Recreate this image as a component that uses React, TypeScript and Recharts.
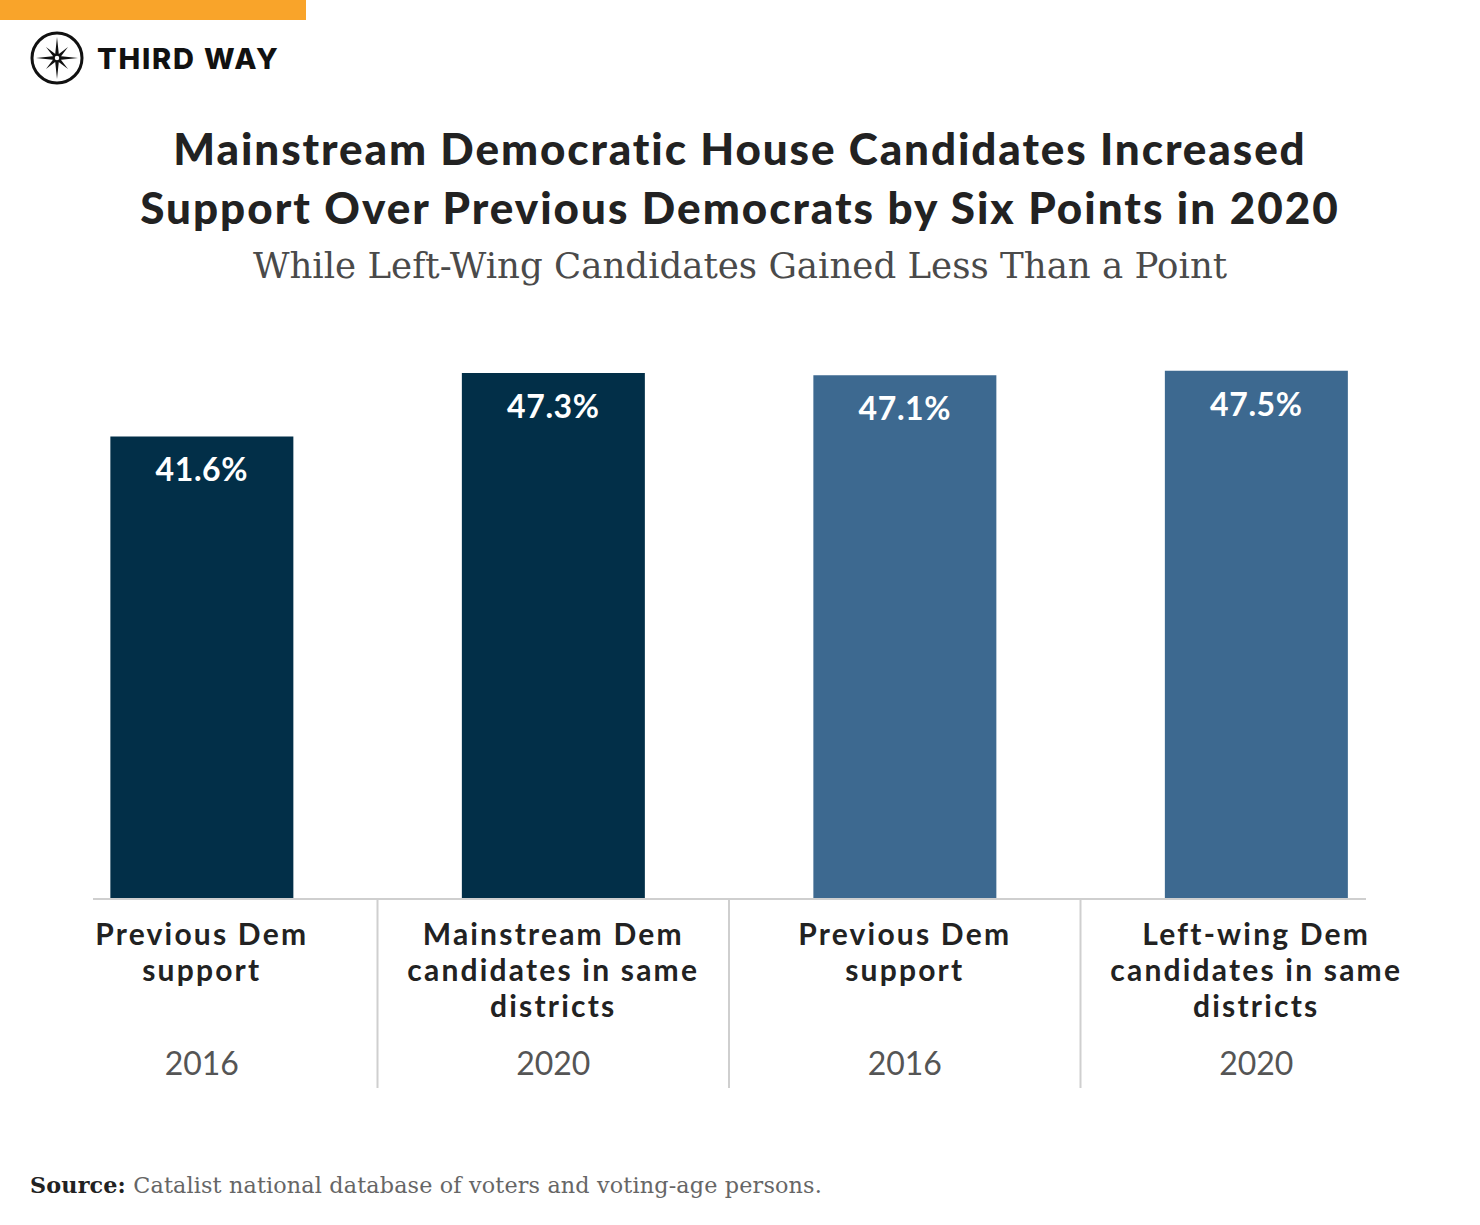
import React from 'react';
import { BarChart, Bar, XAxis, YAxis, LabelList, Cell } from 'recharts';

const categories = [
  ['Previous Dem', 'support'],
  ['Mainstream Dem', 'candidates in same', 'districts'],
  ['Previous Dem', 'support'],
  ['Left-wing Dem', 'candidates in same', 'districts'],
];
const years = ['2016', '2020', '2016', '2020'];
const support = [41.6, 47.3, 47.1, 47.5];
const barColors = ['#022f48', '#022f48', '#3d6990', '#3d6990'];

const data = support.map((v, i) => ({ key: `c${i}`, value: v }));

const W = 1480;
const H = 1225;
const M = { top: 343, right: 48, bottom: 126, left: 26 };
const AXIS_H = 200;
const band = (W - M.left - M.right) / categories.length;

const labelFont = 'Lato, "Open Sans", sans-serif';
const serif = '"DejaVu Serif", "Liberation Serif", serif';

const Tick = (props: any) => {
  const { x, y, payload, index } = props;
  const i = payload?.index ?? index;
  const lines = categories[i] || [];
  return (
    <g>
      {i > 0 && (
        <line x1={x - band / 2} x2={x - band / 2} y1={y} y2={y + 189} stroke="#cfcfcf" strokeWidth={2} />
      )}
      {lines.map((t, k) => (
        <text key={k} x={x} y={y + 46 + k * 36} textAnchor="middle" fontFamily={labelFont} fontWeight={700} fontSize={30} letterSpacing={2.2} fill="#222">
          {t}
        </text>
      ))}
      <text x={x} y={y + 176} textAnchor="middle" fontFamily={labelFont} fontWeight={400} fontSize={32} fill="#555">
        {years[i]}
      </text>
    </g>
  );
};

const Compass = () => (
  <g transform="translate(57,58)">
    <circle r={25} fill="none" stroke="#111" strokeWidth={3} />
    <polygon points="0,-21 2,-2 21,0 2,2 0,21 -2,2 -21,0 -2,-2" fill="#111" />
    <polygon points="-11,-11 1,-2 11,11 -1,2" fill="#111" />
    <polygon points="11,-11 2,1 -11,11 -2,-1" fill="#111" />
    <circle r={3} fill="#fff" stroke="#111" strokeWidth={1.5} />
  </g>
);

export default function App() {
  return (
    <div style={{ position: 'absolute', left: 0, top: 0, width: W, height: H, background: '#fff', overflow: 'hidden' }}>
      <BarChart
        width={W}
        height={H}
        data={data}
        margin={M}
        barCategoryGap="24%"
        style={{ position: 'absolute', left: 0, top: 0 }}
      >
        <XAxis
          dataKey="key"
          height={AXIS_H}
          axisLine={false}
          tickLine={false}
          tickSize={0}
          tickMargin={0}
          interval={0}
          tick={<Tick />}
        />
        <YAxis hide domain={[0, 50]} />
        <Bar dataKey="value" isAnimationActive={false}>
          {data.map((d, i) => (
            <Cell key={d.key} fill={barColors[i]} />
          ))}
          <LabelList
            dataKey="value"
            position="insideTop"
            offset={22}
            formatter={(v: any) => `${v}%`}
            fill="#fff"
            fontFamily={labelFont}
            fontWeight={700}
            fontSize={32}
            letterSpacing={0.6}
          />
        </Bar>
      </BarChart>
      <svg width={W} height={H} style={{ position: 'absolute', left: 0, top: 0, pointerEvents: 'none' }}>
        <rect x={0} y={0} width={306} height={20} fill="#f9a42a" />
        <Compass />
        <text x={97} y={69} fontFamily="Inter, Roboto, sans-serif" fontWeight={800} fontSize={29} letterSpacing={1.8} fill="#111">
          THIRD WAY
        </text>
        <text x={740} y={165} textAnchor="middle" fontFamily={labelFont} fontWeight={900} fontSize={44} letterSpacing={1.9} fill="#222">
          Mainstream Democratic House Candidates Increased
        </text>
        <text x={740} y={224} textAnchor="middle" fontFamily={labelFont} fontWeight={900} fontSize={44} letterSpacing={2} fill="#222">
          Support Over Previous Democrats by Six Points in 2020
        </text>
        <text x={740} y={278} textAnchor="middle" fontFamily={serif} fontWeight={400} fontSize={35.6} fill="#4a4a4a">
          While Left-Wing Candidates Gained Less Than a Point
        </text>
        <line x1={93} x2={1366} y1={899} y2={899} stroke="#cfcfcf" strokeWidth={2} />
        <text x={30} y={1193} fontFamily={serif} fontSize={22.3} letterSpacing={0.15} fill="#666">
          <tspan fontWeight={700} fill="#222">Source:</tspan> Catalist national database of voters and voting-age persons.
        </text>
      </svg>
    </div>
  );
}
